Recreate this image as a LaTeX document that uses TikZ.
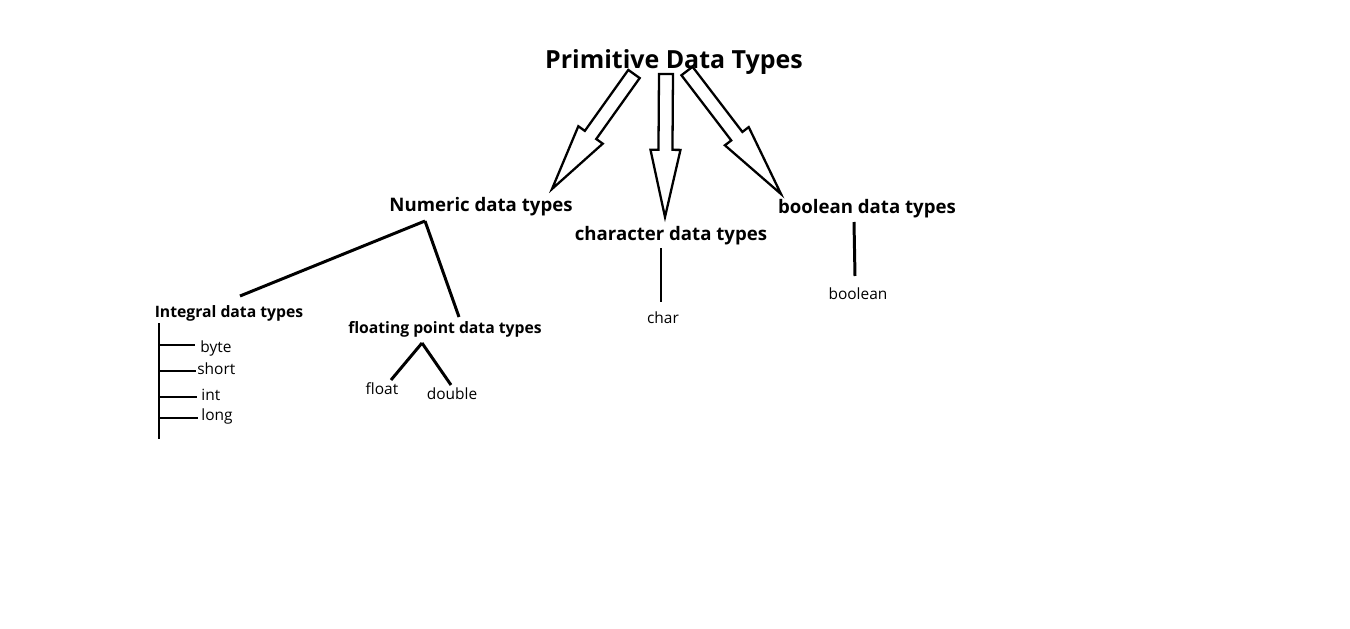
\documentclass[tikz,border=0pt]{standalone}
\usepackage{fontspec}
\setmainfont{Open Sans}
\usetikzlibrary{positioning, calc}

% hollow block arrow from #1 to #2
\newcommand{\hollowarrow}[2]{%
  \path (#1) -- (#2) coordinate[pos=0.53] (head);
  \draw[blockarrow] ($(#1)!0.14cm!-90:(#2)$) -- ($(head)!0.14cm!-90:(#2)$)
    -- ($(head)!0.3cm!-90:(#2)$) -- (#2) -- ($(head)!0.3cm!90:(#2)$)
    -- ($(head)!0.14cm!90:(#2)$) -- ($(#1)!0.14cm!90:(#2)$) -- cycle;
}

\begin{document}
\begin{tikzpicture}[x=0.02cm, y=-0.02cm]
        % Styles
        \tikzstyle{title} = [font=\bfseries\fontsize{14.2}{16}\selectfont, inner sep=0pt]
        \tikzstyle{category} = [font=\bfseries\fontsize{10.6}{12}\selectfont, inner sep=0pt]
        \tikzstyle{subcategory} = [font=\bfseries\fontsize{8.95}{10}\selectfont, inner sep=0pt]
        \tikzstyle{leaf} = [font=\fontsize{8.8}{10}\selectfont, inner sep=0pt]
        \tikzstyle{line} = [line width=1.7pt]
        \tikzstyle{blockarrow} = [line width=1.3pt, line join=miter, fill=white]

        \useasboundingbox (0,0) rectangle (1350,629);

        % Nodes
        \node (prim) [title] at (674,62) {Primitive Data Types};

        \node (numeric) [category] at (481,207) {Numeric data types};
        \node (character) [category] at (671,236) {character data types};
        \node (bool) [category] at (867,209) {boolean data types};

        \node (integral) [subcategory] at (229,313) {Integral data types};
        \node (floating) [subcategory] at (445,329) {floating point data types};

        \node (byte) [leaf, anchor=west] at (200,348) {byte};
        \node (short) [leaf, anchor=west] at (197,369) {short};
        \node (int) [leaf, anchor=west] at (201,395) {int};
        \node (long) [leaf, anchor=west] at (201,416) {long};

        \node (float) [leaf] at (382,389) {float};
        \node (double) [leaf] at (452,394) {double};
        \node (char) [leaf] at (663,318) {char};
        \node (boolean) [leaf] at (858,294) {boolean};

        % Block arrows
        \coordinate (tailL) at (634,74);
        \coordinate (tipL) at (552,189);
        \coordinate (tailM) at (666,74);
        \coordinate (tipM) at (665,217);
        \coordinate (tailR) at (687,71);
        \coordinate (tipR) at (781,194);
        \hollowarrow{tailL}{tipL}
        \hollowarrow{tailM}{tipM}
        \hollowarrow{tailR}{tipR}

        % Numeric branches
        \coordinate (numfork) at ($(numeric)+(-56,14)$);
        \draw [line] (numfork) -- ($(integral)+(11,-17)$);
        \draw [line] (numfork) -- ($(floating)+(14,-12)$);

        % Integral list
        \coordinate (trunk) at (159,323);
        \draw [line] (trunk) -- (159,439);
        \foreach \t/\dy/\dx in {byte/-3/-5, short/2/-1, int/2/-4, long/2/-3}
            \draw [line] ($(\t.west -| trunk)+(0,\dy)$) -- ($(\t.west)+(\dx,\dy)$);

        % Floating point leaves
        \coordinate (floatfork) at ($(floating)+(-23,14)$);
        \draw [line] (floatfork) -- ($(float)+(9,-9)$);
        \draw [line] (floatfork) -- ($(double)+(-1,-9)$);

        % Single leaves
        \draw [line] ($(character)+(-10,12)$) -- ($(char)+(-2,-16)$);
        \draw [line] ($(bool)+(-13,13)$) -- ($(boolean)+(-3,-18)$);

    \end{tikzpicture}
\end{document}
